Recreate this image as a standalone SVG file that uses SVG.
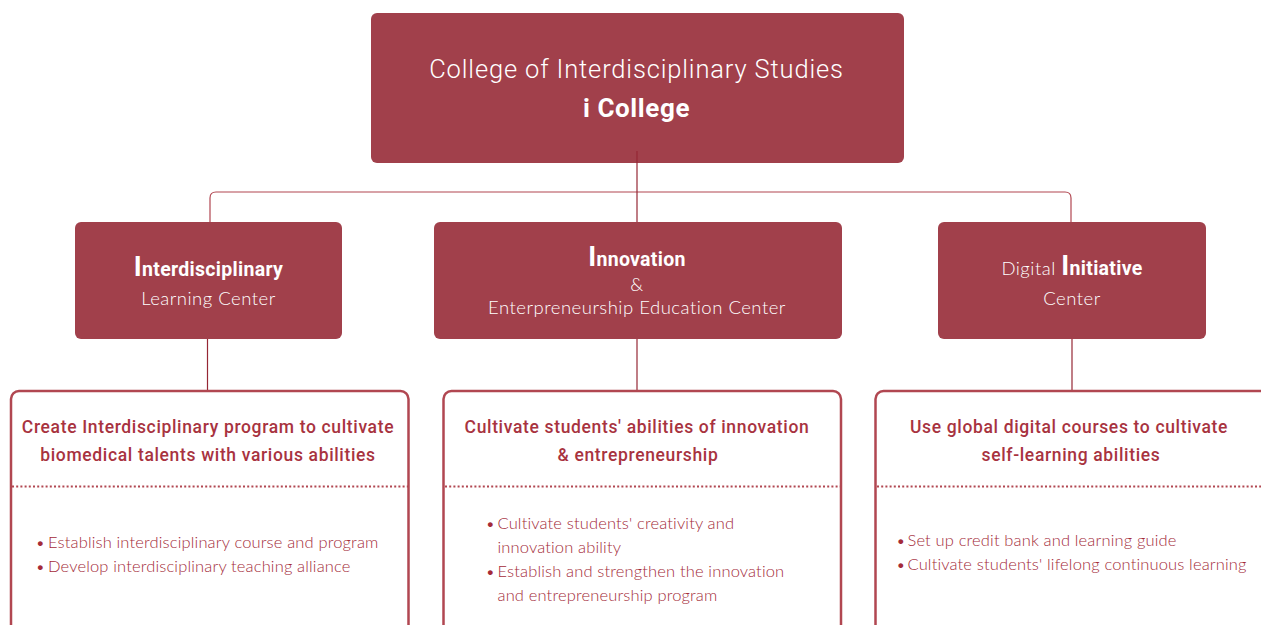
<svg xmlns="http://www.w3.org/2000/svg" width="1261" height="625" viewBox="0 0 1261 625">
<style>
.hd{fill:#A1404B}
.wt{fill:#FFFFFF;font-family:Roboto,"Liberation Sans",sans-serif}
.lt{fill:#FFFFFF;font-family:Lato,"Open Sans","Liberation Sans",sans-serif;font-weight:300;font-size:18.5px;letter-spacing:0.5px}
.bd{font-weight:700;font-size:19.5px;letter-spacing:0.3px}
.card{fill:#FFFFFF;stroke:#B14751;stroke-width:2.5}
.dot{stroke:#B14751;stroke-width:2;stroke-dasharray:2 2.2}
.ttl{fill:#A8333F;font-family:Roboto,"Liberation Sans",sans-serif;font-weight:500;font-size:17.5px;letter-spacing:0.65px;text-anchor:middle}
.bl{fill:#A42B39;font-family:Lato,"Open Sans","Liberation Sans",sans-serif;font-weight:300;font-size:16.5px;letter-spacing:0.15px}
.cn{fill:none;stroke:#B14751;stroke-width:1.2}
.cv{fill:none;stroke:#952734;stroke-width:1.2}
</style>
<g id="connectors">
<path class="cn" d="M210 222 V198 Q210 192 216 192 H1065 Q1071 192 1071 198 V222"/>
<line class="cv" x1="637" y1="151" x2="637" y2="222"/>
<line class="cv" x1="207.5" y1="339" x2="207.5" y2="390"/>
<line class="cv" x1="637" y1="339" x2="637" y2="390"/>
<line class="cv" x1="1072" y1="339" x2="1072" y2="390"/>
</g>
<g id="root">
<rect class="hd" x="371" y="13" width="533" height="150" rx="6"/>
<line class="cv" x1="637" y1="151" x2="637" y2="163"/>
<text class="wt" x="636.5" y="78" text-anchor="middle" font-size="25.5" font-weight="300" letter-spacing="0.85">College of Interdisciplinary Studies</text>
<text class="wt" x="636.5" y="116.5" text-anchor="middle" font-size="26" font-weight="700" letter-spacing="0.6">i College</text>
</g>
<g id="center1">
<rect class="hd" x="75" y="222" width="267" height="117" rx="6"/>
<text class="wt bd" x="208.5" y="275.5" text-anchor="middle"><tspan font-size="27">I</tspan>nterdisciplinary</text>
<text class="lt" x="208.5" y="305" text-anchor="middle">Learning Center</text>
</g>
<g id="center2">
<rect class="hd" x="434" y="222" width="408" height="117" rx="6"/>
<text class="wt bd" x="637" y="266" text-anchor="middle"><tspan font-size="27">I</tspan>nnovation</text>
<text class="lt" x="637" y="291" text-anchor="middle">&amp;</text>
<text class="lt" x="637" y="314" text-anchor="middle" letter-spacing="0.45">Enterpreneurship Education Center</text>
</g>
<g id="center3">
<rect class="hd" x="938" y="222" width="268" height="117" rx="6"/>
<text x="1072" y="275" text-anchor="middle"><tspan class="lt">Digital </tspan><tspan class="wt bd"><tspan font-size="27">I</tspan>nitiative</tspan></text>
<text class="lt" x="1072" y="305" text-anchor="middle">Center</text>
</g>
<g id="card1">
<rect class="card" x="11" y="391" width="397.5" height="260" rx="8"/>
<line class="dot" x1="12" y1="486.5" x2="408" y2="486.5"/>
<text class="ttl" x="208" y="433">Create Interdisciplinary program to cultivate</text>
<text class="ttl" x="208" y="461">biomedical talents with various abilities</text>
<text class="bl" x="35.5" y="548">•</text>
<text class="bl" x="48" y="548">Establish interdisciplinary course and program</text>
<text class="bl" x="35.5" y="572">•</text>
<text class="bl" x="48" y="572">Develop interdisciplinary teaching alliance</text>
</g>
<g id="card2">
<rect class="card" x="443.5" y="391" width="397.5" height="260" rx="8"/>
<line class="dot" x1="445" y1="486.5" x2="840" y2="486.5"/>
<text class="ttl" x="637" y="433">Cultivate students' abilities of innovation</text>
<text class="ttl" x="638" y="461">&amp; entrepreneurship</text>
<text class="bl" x="485.5" y="528.5">•</text>
<text class="bl" x="497.5" y="528.5">Cultivate students' creativity and</text>
<text class="bl" x="497.5" y="552.5">innovation ability</text>
<text class="bl" x="485.5" y="577">•</text>
<text class="bl" x="497.5" y="577">Establish and strengthen the innovation</text>
<text class="bl" x="497.5" y="601">and entrepreneurship program</text>
</g>
<g id="card3">
<rect class="card" x="875.5" y="391" width="420" height="260" rx="8"/>
<line class="dot" x1="877" y1="486.5" x2="1261" y2="486.5"/>
<text class="ttl" x="1069" y="433">Use global digital courses to cultivate</text>
<text class="ttl" x="1071" y="461">self-learning abilities</text>
<text class="bl" x="896" y="546">•</text>
<text class="bl" x="907.5" y="546">Set up credit bank and learning guide</text>
<text class="bl" x="896" y="570">•</text>
<text class="bl" x="907.5" y="570">Cultivate students' lifelong continuous learning</text>
</g>
</svg>
